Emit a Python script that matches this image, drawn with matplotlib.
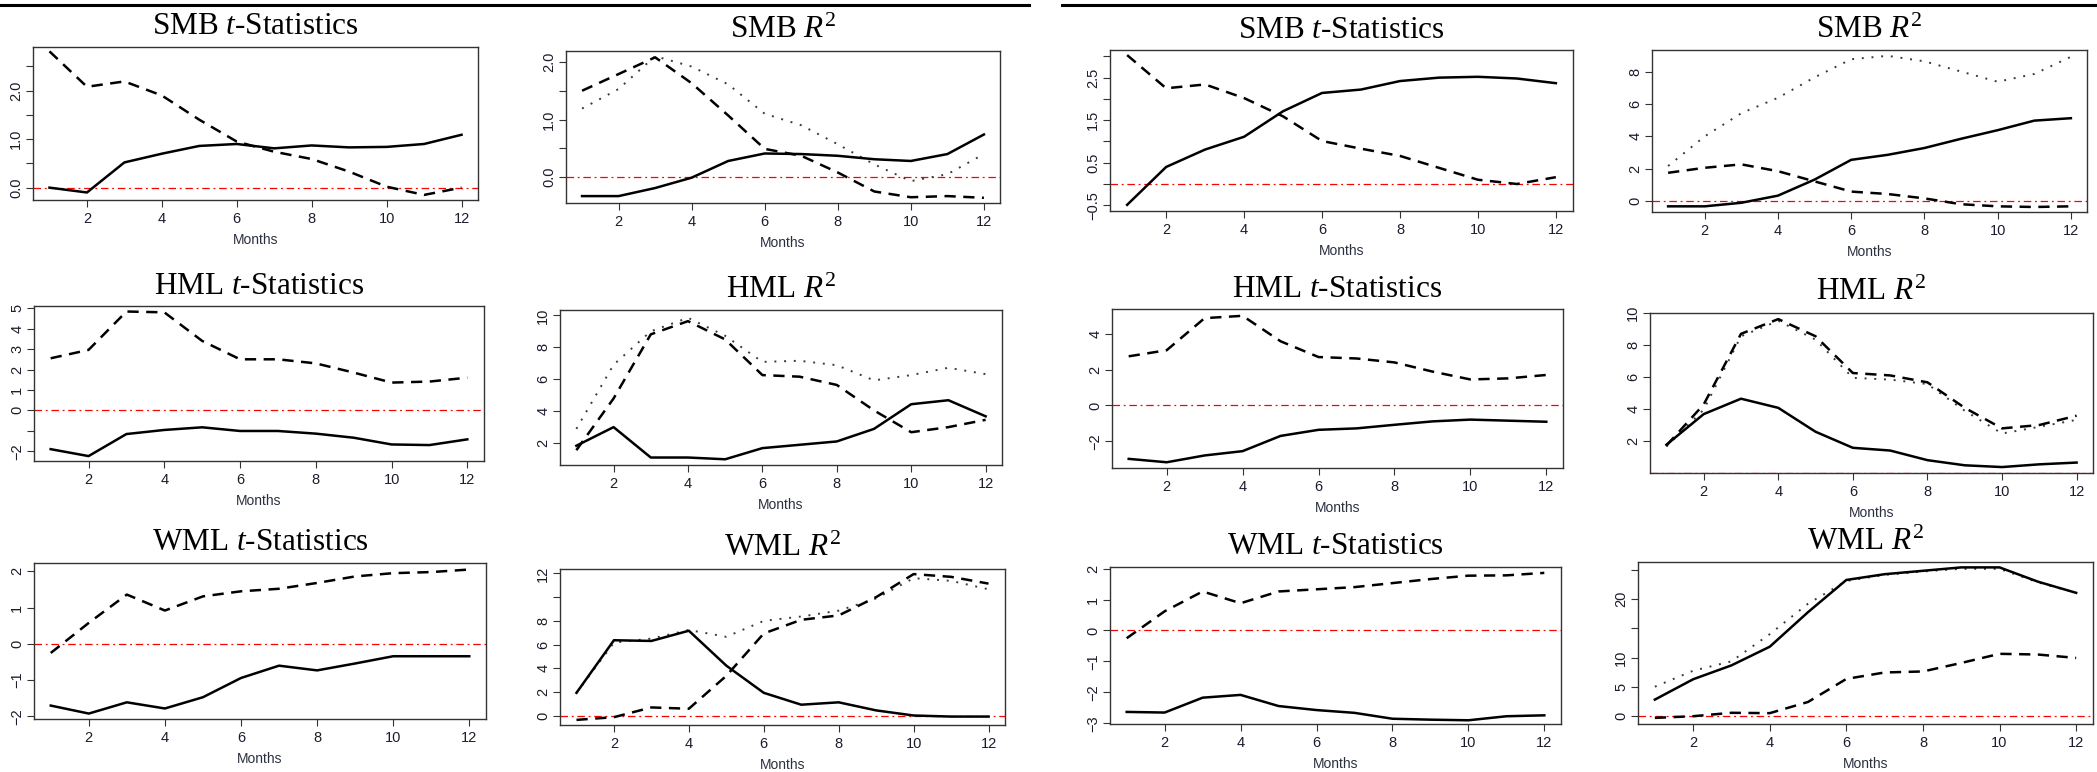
import matplotlib
matplotlib.use("Agg")
import matplotlib.pyplot as plt
from matplotlib.lines import Line2D

plt.rcParams['font.family'] = ['Liberation Sans', 'DejaVu Sans']
plt.rcParams['mathtext.fontset'] = 'custom'
plt.rcParams['mathtext.rm'] = 'Liberation Serif'
plt.rcParams['mathtext.it'] = 'Liberation Serif:italic'

months = list(range(1, 13))

# left block
smb_t_a_solid = [0.0, -0.10, 0.52, 0.70, 0.86, 0.90, 0.81, 0.87, 0.83, 0.84, 0.90, 1.09]
smb_t_a_dash = [2.81, 2.08, 2.19, 1.90, 1.40, 0.95, 0.74, 0.59, 0.33, 0.02, -0.15, 0.0]
smb_r_a_solid = [-0.33, -0.33, -0.19, -0.01, 0.28, 0.41, 0.40, 0.37, 0.31, 0.28, 0.40, 0.74]
smb_r_a_dash = [1.50, 1.79, 2.08, 1.63, 1.07, 0.49, 0.37, 0.08, -0.25, -0.35, -0.33, -0.36]
smb_r_a_dot = [1.19, 1.53, 2.10, 1.92, 1.61, 1.10, 0.90, 0.57, 0.22, -0.07, 0.05, 0.40]
hml_t_a_solid = [-1.90, -2.24, -1.16, -0.96, -0.83, -1.01, -1.01, -1.14, -1.34, -1.67, -1.70, -1.42]
hml_t_a_dash = [2.55, 2.96, 4.84, 4.80, 3.40, 2.50, 2.50, 2.30, 1.85, 1.36, 1.41, 1.60]
hml_r_a_solid = [1.81, 2.98, 1.07, 1.07, 0.96, 1.66, 1.87, 2.08, 2.87, 4.42, 4.67, 3.66]
hml_r_a_dash = [1.53, 4.78, 8.81, 9.64, 8.49, 6.25, 6.15, 5.63, 4.03, 2.66, 2.98, 3.44]
hml_r_a_dot = [2.87, 6.90, 9.00, 9.85, 8.72, 7.08, 7.15, 6.87, 5.92, 6.25, 6.71, 6.31]
wml_t_a_solid = [-1.70, -1.92, -1.61, -1.78, -1.47, -0.94, -0.60, -0.73, -0.54, -0.34, -0.34, -0.34]
wml_t_a_dash = [-0.25, 0.58, 1.36, 0.92, 1.31, 1.45, 1.52, 1.68, 1.86, 1.95, 1.98, 2.05]
wml_r_a_solid = [1.94, 6.37, 6.31, 7.17, 4.23, 1.94, 0.94, 1.14, 0.46, 0.03, -0.06, -0.06]
wml_r_a_dash = [-0.34, -0.11, 0.71, 0.60, 3.37, 6.94, 8.09, 8.46, 10.0, 11.94, 11.71, 11.14]
wml_r_a_dot = [1.94, 6.17, 6.51, 7.23, 6.66, 8.00, 8.37, 8.86, 9.89, 11.60, 11.37, 10.66]

# right block
smb_t_b_solid = [-0.49, 0.40, 0.81, 1.11, 1.71, 2.14, 2.22, 2.42, 2.50, 2.52, 2.48, 2.37]
smb_t_b_dash = [3.03, 2.25, 2.34, 2.02, 1.59, 1.01, 0.83, 0.66, 0.38, 0.10, 0.0, 0.16]
smb_r_b_solid = [-0.32, -0.32, -0.10, 0.34, 1.33, 2.55, 2.86, 3.28, 3.85, 4.38, 4.97, 5.12]
smb_r_b_dash = [1.75, 2.06, 2.27, 1.85, 1.22, 0.59, 0.44, 0.17, -0.19, -0.32, -0.36, -0.32]
smb_r_b_dot = [2.17, 4.00, 5.43, 6.38, 7.64, 8.76, 8.97, 8.63, 8.00, 7.37, 7.85, 8.91]
hml_t_b_solid = [-2.98, -3.17, -2.79, -2.55, -1.70, -1.36, -1.28, -1.08, -0.89, -0.79, -0.85, -0.91]
hml_t_b_dash = [2.74, 3.08, 4.87, 5.00, 3.58, 2.70, 2.62, 2.40, 1.89, 1.45, 1.51, 1.70]
hml_r_b_solid = [1.79, 3.70, 4.66, 4.09, 2.60, 1.60, 1.43, 0.83, 0.51, 0.40, 0.57, 0.68]
hml_r_b_dash = [1.74, 4.30, 8.70, 9.62, 8.55, 6.26, 6.11, 5.68, 4.09, 2.81, 3.02, 3.60]
hml_r_b_dot = [1.68, 3.98, 8.55, 9.51, 8.34, 5.96, 5.85, 5.57, 3.91, 2.49, 2.91, 3.34]
wml_t_b_solid = [-2.63, -2.65, -2.17, -2.08, -2.44, -2.57, -2.66, -2.85, -2.88, -2.90, -2.77, -2.74]
wml_t_b_dash = [-0.25, 0.62, 1.26, 0.88, 1.26, 1.33, 1.40, 1.53, 1.66, 1.77, 1.78, 1.86]
wml_r_b_solid = [2.83, 6.30, 8.67, 11.85, 17.75, 23.24, 24.22, 24.80, 25.38, 25.38, 22.95, 21.04]
wml_r_b_dash = [-0.29, 0.0, 0.58, 0.52, 2.43, 6.36, 7.46, 7.63, 9.08, 10.64, 10.52, 9.94]
wml_r_b_dot = [5.03, 7.75, 9.36, 13.99, 19.19, 23.06, 24.10, 24.68, 25.14, 25.14, 22.83, 21.04]

T_TITLE = r'%s $\mathit{t}$-Statistics'
R_TITLE = r'%s $\mathit{R}^{\mathrm{2}}$'

W, H = 2097, 772
fig = plt.figure(figsize=(W / 100, H / 100), dpi=100)

TXT = '#1c1c2c'
FRAME = '#333333'


def make_ax(box, title, series, ylim, yticks, ylabels):
    l, t, r, b = box
    ax = fig.add_axes([l / W, 1 - b / H, (r - l) / W, (b - t) / H])
    ax.axhline(0, color='red', lw=0.9, ls=(0, (6, 3, 1.5, 3)), zorder=1)
    for vals, kind in series:
        if kind == 'solid':
            ax.plot(months, vals, color='black', lw=1.8, solid_joinstyle='round', zorder=3)
        elif kind == 'dash':
            ax.plot(months, vals, color='black', lw=1.8, ls=(0, (4.5, 3)), zorder=3)
        else:
            ax.plot(months, vals, color='#3a3a3a', lw=1.4, ls=(0, (1, 4)), zorder=2)
    ax.set_xlim(0.56, 12.44)
    ax.set_ylim(*ylim)
    ax.set_xticks([2, 4, 6, 8, 10, 12])
    ax.set_yticks(yticks)
    ax.set_yticklabels(ylabels, rotation=90, va='center')
    ax.tick_params(direction='out', length=5, width=0.8, color=FRAME,
                   labelsize=10.5, labelcolor=TXT)
    ax.tick_params(axis='x', pad=3.5)
    ax.tick_params(axis='y', pad=2)
    for s in ax.spines.values():
        s.set_linewidth(1.0)
        s.set_color(FRAME)
    ax.set_xlabel('Months', fontsize=10, color='#2b3040', labelpad=5.5)
    ax.set_title(title, fontsize=22.5, family='Liberation Serif', pad=9)
    return ax


def lab(ticks, shown, fmt):
    return [(fmt % v).replace('-', '\u2212') if v in shown else '' for v in ticks]


# row 1
tk = [0, 0.5, 1, 1.5, 2, 2.5]
make_ax((33, 47, 478, 200), T_TITLE % 'SMB',
        [(smb_t_a_solid, 'solid'), (smb_t_a_dash, 'dash')],
        (-0.255, 2.90), tk, lab(tk, [0, 1, 2], '%.1f'))
tk = [0, 0.5, 1, 1.5, 2]
make_ax((566, 51, 1000, 203), R_TITLE % 'SMB',
        [(smb_r_a_dot, 'dot'), (smb_r_a_solid, 'solid'), (smb_r_a_dash, 'dash')],
        (-0.45, 2.19), tk, lab(tk, [0, 1, 2], '%.1f'))
tk = [-0.5, 0, 0.5, 1, 1.5, 2, 2.5, 3]
make_ax((1110, 50, 1573, 211), T_TITLE % 'SMB',
        [(smb_t_b_solid, 'solid'), (smb_t_b_dash, 'dash')],
        (-0.635, 3.15), tk, lab(tk, [-0.5, 0.5, 1.5, 2.5], '%.1f'))
tk = [0, 2, 4, 6, 8]
make_ax((1652, 50, 2087, 212), R_TITLE % 'SMB',
        [(smb_r_b_dot, 'dot'), (smb_r_b_solid, 'solid'), (smb_r_b_dash, 'dash')],
        (-0.67, 9.33), tk, lab(tk, tk, '%d'))

# row 2
tk = [-2, -1, 0, 1, 2, 3, 4, 5]
make_ax((34, 306, 484, 461), T_TITLE % 'HML',
        [(hml_t_a_solid, 'solid'), (hml_t_a_dash, 'dash')],
        (-2.48, 5.11), tk, lab(tk, [-2, 0, 1, 2, 3, 4, 5], '%d'))
tk = [2, 4, 6, 8, 10]
make_ax((560, 310, 1002, 465), R_TITLE % 'HML',
        [(hml_r_a_dot, 'dot'), (hml_r_a_solid, 'solid'), (hml_r_a_dash, 'dash')],
        (0.60, 10.34), tk, lab(tk, tk, '%d'))
tk = [-2, 0, 2, 4]
make_ax((1112, 309, 1563, 468), T_TITLE % 'HML',
        [(hml_t_b_solid, 'solid'), (hml_t_b_dash, 'dash')],
        (-3.49, 5.38), tk, lab(tk, tk, '%d'))
tk = [2, 4, 6, 8, 10]
make_ax((1650, 313, 2093, 473), R_TITLE % 'HML',
        [(hml_r_b_dot, 'dot'), (hml_r_b_solid, 'solid'), (hml_r_b_dash, 'dash')],
        (0.03, 9.99), tk, lab(tk, tk, '%d'))

# row 3
tk = [-2, -1, 0, 1, 2]
make_ax((34, 563, 486, 719), T_TITLE % 'WML',
        [(wml_t_a_solid, 'solid'), (wml_t_a_dash, 'dash')],
        (-2.07, 2.23), tk, lab(tk, tk, '%d'))
tk = [0, 2, 4, 6, 8, 10, 12]
make_ax((560, 569, 1005, 725), R_TITLE % 'WML',
        [(wml_r_a_dot, 'dot'), (wml_r_a_solid, 'solid'), (wml_r_a_dash, 'dash')],
        (-0.77, 12.37), tk, lab(tk, [0, 2, 4, 6, 8, 12], '%d'))
tk = [-3, -2, -1, 0, 1, 2]
make_ax((1110, 567, 1561, 724), T_TITLE % 'WML',
        [(wml_t_b_solid, 'solid'), (wml_t_b_dash, 'dash')],
        (-3.02, 2.05), tk, lab(tk, tk, '%d'))
tk = [0, 5, 10, 15, 20, 25]
make_ax((1638, 562, 2093, 724), R_TITLE % 'WML',
        [(wml_r_b_dot, 'dot'), (wml_r_b_solid, 'solid'), (wml_r_b_dash, 'dash')],
        (-1.33, 26.3), tk, lab(tk, [0, 5, 10, 20], '%d'))

# rules across the top of each block
fig.add_artist(Line2D([0, 1029 / W], [1 - 5 / H] * 2, color='black', lw=2.2))
fig.add_artist(Line2D([1062 / W, 1], [1 - 5 / H] * 2, color='black', lw=2.2))

fig.savefig('out.png', dpi=100)
